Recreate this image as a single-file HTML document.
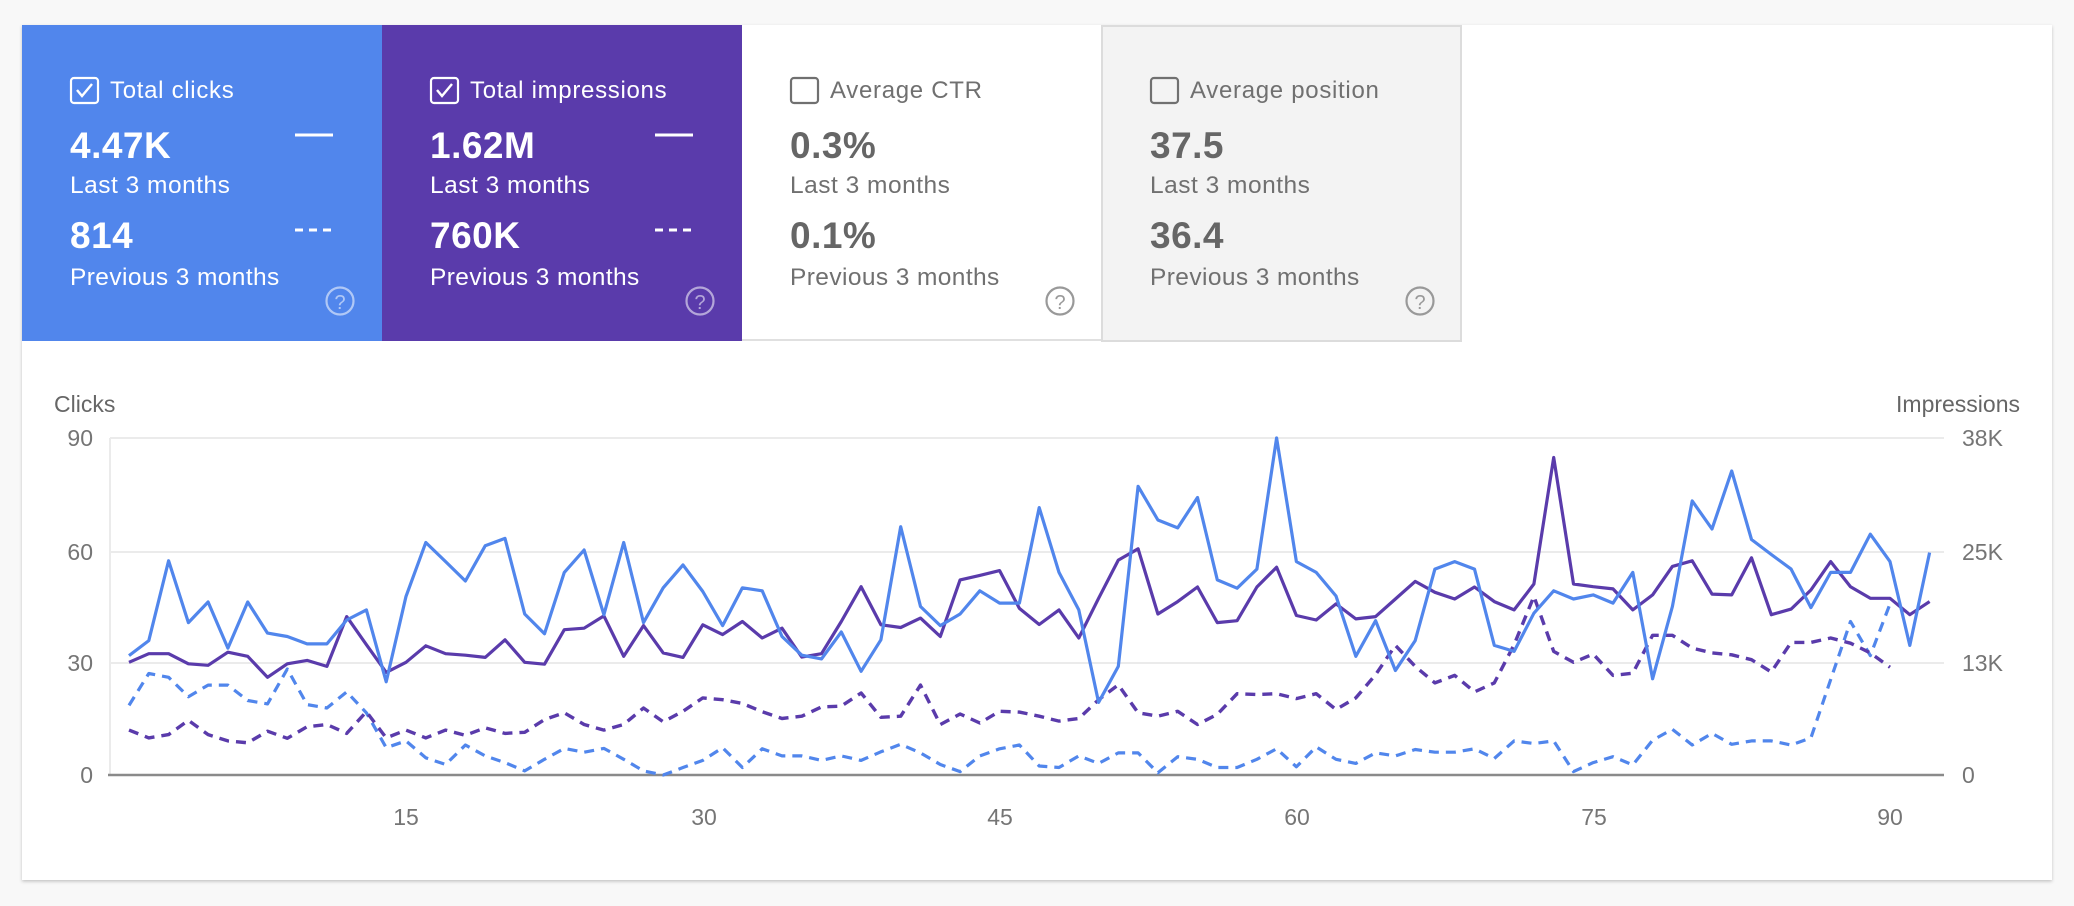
<!DOCTYPE html>
<html><head><meta charset="utf-8"><style>
html,body{margin:0;padding:0;background:#f8f8f8;}
svg{display:block;font-family:"Liberation Sans",Arial,sans-serif;}
</style></head><body>
<svg id="s" width="2074" height="906" viewBox="0 0 2074 906" xmlns="http://www.w3.org/2000/svg">
<defs><filter id="sh" x="-2%" y="-2%" width="104%" height="106%"><feDropShadow dx="0" dy="1.5" stdDeviation="1.5" flood-color="#000" flood-opacity="0.22"/></filter></defs>
<rect width="2074" height="906" fill="#f8f8f8"/>
<rect x="22" y="25" width="2030" height="855" fill="#fff" filter="url(#sh)"/>
<rect x="22" y="25" width="360" height="316" fill="#5186ec"/>
<rect x="382" y="25" width="360" height="316" fill="#5a3bab"/>
<rect x="742" y="25" width="360" height="316" fill="#fff"/>
<line x1="742" y1="340" x2="1102" y2="340" stroke="#e0e0e0" stroke-width="2"/>
<rect x="1102" y="26" width="359" height="315" fill="#f3f3f3" stroke="#dcdcdc" stroke-width="2"/>
<g id="tiles"></g>
<g font-size="23" fill="#666">
<text x="54" y="412">Clicks</text>
<text x="2020" y="412" text-anchor="end">Impressions</text>
</g>
<g stroke="#ebebeb" stroke-width="2">
<line x1="110" y1="438" x2="1944" y2="438"/>
<line x1="110" y1="552" x2="1944" y2="552"/>
<line x1="110" y1="663" x2="1944" y2="663"/>
</g>
<line x1="110" y1="438" x2="110" y2="775" stroke="#ebebeb" stroke-width="2"/>
<line x1="108" y1="775" x2="1944" y2="775" stroke="#8a8a8a" stroke-width="2.5"/>
<g font-size="23" fill="#757575" text-anchor="end">
<text x="93" y="446">90</text><text x="93" y="560">60</text><text x="93" y="671">30</text><text x="93" y="783">0</text>
</g>
<g font-size="23" fill="#757575">
<text x="1962" y="446">38K</text><text x="1962" y="560">25K</text><text x="1962" y="671">13K</text><text x="1962" y="783">0</text>
</g>
<g font-size="23" fill="#757575" text-anchor="middle">
<text x="406" y="825">15</text><text x="704" y="825">30</text><text x="1000" y="825">45</text><text x="1297" y="825">60</text><text x="1594" y="825">75</text><text x="1890" y="825">90</text>
</g>
<g id="lines" fill="none" stroke-linejoin="round"></g>
</svg>
<script>
var NS="http://www.w3.org/2000/svg";
function el(t,a,p,txt){var e=document.createElementNS(NS,t);for(var k in a)e.setAttribute(k,a[k]);if(txt)e.textContent=txt;p.appendChild(e);return e;}
var tiles=[
 {x:22,t:"Total clicks",a:"4.47K",b:"814",fg:"#fff",num:"#fff",chk:true,ic:true},
 {x:382,t:"Total impressions",a:"1.62M",b:"760K",fg:"#fff",num:"#fff",chk:true,ic:true},
 {x:742,t:"Average CTR",a:"0.3%",b:"0.1%",fg:"#707070",num:"#666",chk:false},
 {x:1102,t:"Average position",a:"37.5",b:"36.4",fg:"#707070",num:"#666",chk:false}];
var g=document.getElementById("tiles");
tiles.forEach(function(t){
 var x=t.x;
 el("rect",{x:x+49,y:78,width:27,height:25,rx:3,fill:"none",stroke:t.fg,"stroke-width":2.2},g);
 if(t.chk) el("path",{d:"M"+(x+55)+" 90 l5 6 l10 -12",fill:"none",stroke:t.fg,"stroke-width":2.4},g);
 el("text",{x:x+88,y:98,"font-size":24,"letter-spacing":0.7,fill:t.fg},g,t.t);
 el("text",{x:x+48,y:158,"font-size":37,"letter-spacing":0.5,"font-weight":"bold",fill:t.num},g,t.a);
 el("text",{x:x+48,y:193,"font-size":24.5,"letter-spacing":0.5,fill:t.fg},g,"Last 3 months");
 el("text",{x:x+48,y:248,"font-size":37,"letter-spacing":0.5,"font-weight":"bold",fill:t.num},g,t.b);
 el("text",{x:x+48,y:285,"font-size":24.5,"letter-spacing":0.4,fill:t.fg},g,"Previous 3 months");
 var hc=t.ic?"rgba(255,255,255,0.55)":"#999";
 el("circle",{cx:x+318,cy:301,r:13.5,fill:"none",stroke:hc,"stroke-width":2.2},g);
 el("text",{x:x+318,y:309,"font-size":20,fill:hc,"text-anchor":"middle"},g,"?");
 if(t.ic){
  el("line",{x1:x+273,y1:135,x2:x+311,y2:135,stroke:"#fff","stroke-width":3},g);
  el("line",{x1:x+273,y1:230,x2:x+311,y2:230,stroke:"#fff","stroke-width":3,"stroke-dasharray":"8 6"},g);
 }
});
var bs=[31.9,35.9,57.2,40.7,46.2,33.9,46.2,37.9,37,35,35,41.4,44.1,24.9,47.7,62.1,57,51.8,61.2,63.2,43,37.7,54.1,60.1,42.8,62.1,40.7,50,56.1,49,39.9,50,49.2,37,32,31,38.2,27.7,36.1,66.3,45,39.9,43,49.2,45.9,45.9,71.4,54.1,44.1,19.4,29,77.1,68.1,66,74.1,52.1,49.9,55,90,57,54.1,47.8,31.7,41.2,27.9,35.9,55,57,55,34.6,33,43.2,49.2,47,48.1,45.9,54.1,25.7,45,73.2,65.7,81.2,62.9,58.9,55,44.7,54.1,54.1,64.3,57,34.6,59.4];
var ps=[30.1,32.4,32.4,29.7,29.3,32.8,31.7,26.1,29.7,30.6,29,42.3,34.8,27.4,30.1,34.5,32.4,32,31.4,36.1,30.1,29.6,38.8,39.2,42.5,31.7,39.9,32.6,31.4,40.1,37.5,41,36.6,39.2,31.5,32.4,41,50.3,40.1,39.4,41.9,37,52.1,53.3,54.6,44.5,40.2,44.1,36.6,47.2,57.4,60.4,43,46.3,50.2,40.7,41.2,50.2,55.5,42.6,41.4,45.7,41.7,42.3,47,51.7,48.8,47,50.2,46.3,44.1,51,84.8,51,50.3,49.7,44.1,48.1,55.7,57.2,48.3,48.1,58,42.8,44.3,49.4,57,50.3,47.2,47.2,42.8,46.3];
var pd=[12,9.9,10.8,14.6,10.8,9.1,8.6,11.7,9.8,12.9,13.5,11.1,16.9,9.9,12,9.9,12,10.6,12.6,11.1,11.4,14.8,16.6,13.5,12,13.5,17.9,14.2,17,20.6,20.1,19.1,16.9,15.1,15.7,18.2,18.4,21.9,15.4,15.7,24,13.5,16.3,13.9,17,16.8,15.7,14.4,15.1,20.1,24.1,16.6,15.7,17,13.5,16.2,21.7,21.5,21.7,20.4,21.7,17.5,20.6,26.8,34.6,29,24.6,26.6,22.2,24.6,34.8,47.7,33,30.1,32.3,26.6,27.2,37.3,37.3,33.9,32.6,32.1,30.8,27.5,35.4,35.4,36.6,35.2,32.6,28.8];
var bd=[18.6,27.1,26.1,20.9,24,24,19.9,19,28.3,18.8,17.9,22.2,16.6,7.3,9.1,4.6,2.8,8,5.1,3.3,1.1,4.2,7.1,6.1,7.1,4.2,1.1,0,2,3.9,7.3,2,7,5.1,5.1,3.9,5.1,3.9,6.2,8.2,5.9,2.8,0.9,5.1,7,8,2.4,2,5.1,3.1,5.9,5.9,0.6,4.9,4.2,2,2,4.2,7,2.2,7.5,4.2,3.1,5.9,5.1,6.8,6.1,6.1,7,4.4,9.1,8.4,9.1,0.9,3.3,4.9,2.7,9.3,12.2,8,11.1,8.2,9.1,9.1,8,9.9,25.5,41,31.9,45.7];
function path(d){return d.map(function(v,i){return (i?"L":"M")+(129+i*19.787).toFixed(1)+" "+(775-v*3.7444).toFixed(1);}).join(" ");}
var L=document.getElementById("lines");
el("path",{d:path(bd),stroke:"#5186ec","stroke-width":3.2,"stroke-dasharray":"10 7"},L);
el("path",{d:path(pd),stroke:"#5a3bab","stroke-width":3.4,"stroke-dasharray":"10 7"},L);
el("path",{d:path(ps),stroke:"#5a3bab","stroke-width":3.2},L);
el("path",{d:path(bs),stroke:"#5186ec","stroke-width":3.2},L);
</script>
</body></html>
